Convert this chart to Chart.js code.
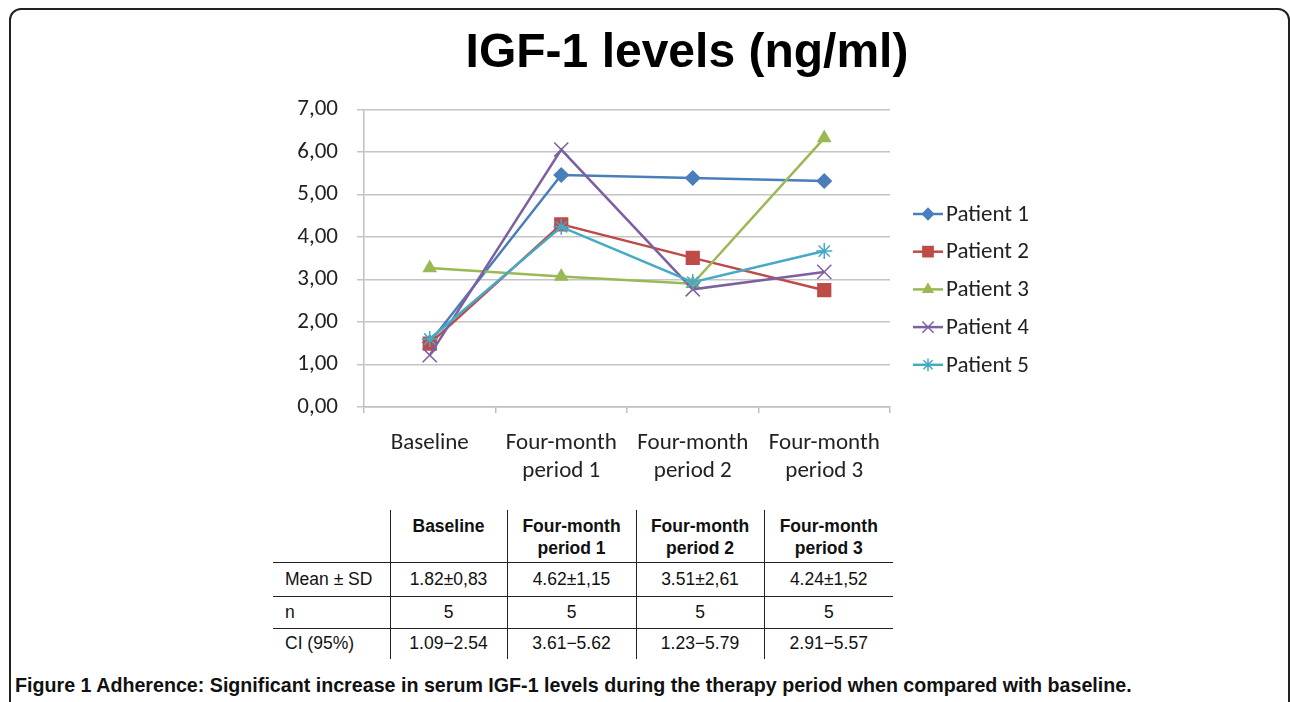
<!DOCTYPE html>
<html>
<head>
<meta charset="utf-8">
<script src="https://cdn.jsdelivr.net/npm/chart.js@4"></script>
<style>
  body { margin: 0; background: #fff; width: 1290px; height: 702px; overflow: hidden; position: relative; }
  #frame { position: absolute; left: 9px; top: 8px; width: 1277px; height: 720px; border: 2px solid #222; border-radius: 12px 12px 0 0; }
  #wrap { position: absolute; left: 84px; top: 0; width: 1206px; height: 500px; }
  table { position: absolute; left: 273px; top: 510px; border-collapse: collapse; font-family: "Liberation Sans", Arial, sans-serif; font-size: 17.5px; color: #111; }
  td, th { padding: 0; text-align: center; }
  th { font-weight: bold; height: 52px; vertical-align: top; padding-top: 5px; box-sizing: border-box; line-height: 22px; }
  tr + tr td { border-top: 1px solid #222; }
  td + td, th + th { border-left: 1.5px solid #222; }
  td:first-child { text-align: left; padding-left: 12px; }
  #caption { position: absolute; left: 15px; top: 673px; font-family: "Liberation Sans", sans-serif; font-weight: bold; font-size: 21px; color: #111; white-space: nowrap; transform: scaleX(0.936); transform-origin: 0 0; }
</style>
</head>
<body>
<div id="frame"></div>
<div id="wrap"><canvas id="myChart" width="1206" height="500"></canvas></div>
<table id="stats"></table>
<div id="caption"><b>Figure 1</b> Adherence: Significant increase in serum IGF-1 levels during the therapy period when compared with baseline.</div>
<script>
// Données
const periods = [['Baseline'], ['Four-month', 'period 1'], ['Four-month', 'period 2'], ['Four-month', 'period 3']];
const patient1 = [1.52, 5.46, 5.39, 5.32];
const patient2 = [1.49, 4.30, 3.51, 2.75];
const patient3 = [3.27, 3.07, 2.90, 6.33];
const patient4 = [1.22, 6.06, 2.77, 3.18];
const patient5 = [1.60, 4.24, 2.94, 3.67];
const yTicks = [0, 1, 2, 3, 4, 5, 6, 7];

// Tableau sous le graphique
const tableHeaders = ['', 'Baseline', 'Four-month<br>period 1', 'Four-month<br>period 2', 'Four-month<br>period 3'];
const meanSd = ['1.82±0,83', '4.62±1,15', '3.51±2,61', '4.24±1,52'];
const nValues = ['5', '5', '5', '5'];
const ci95 = ['1.09\u22122.54', '3.61\u22125.62', '1.23\u22125.79', '2.91\u22125.57'];

const colWidths = [117, 117, 129, 128, 129];
let html = '<tr>' + tableHeaders.map((h, i) => '<th style="width:' + colWidths[i] + 'px">' + h + '</th>').join('') + '</tr>';
html += '<tr style="height:34px"><td>Mean ± SD</td>' + meanSd.map(v => '<td>' + v + '</td>').join('') + '</tr>';
html += '<tr style="height:32px"><td>n</td>' + nValues.map(v => '<td>' + v + '</td>').join('') + '</tr>';
html += '<tr style="height:31px"><td>CI (95%)</td>' + ci95.map(v => '<td>' + v + '</td>').join('') + '</tr>';
document.getElementById('stats').innerHTML = html;

const tickFont = { family: 'Carlito, Lato, sans-serif', size: 23 };

// Légende dessinée à la main : trait + marqueur
const legendPlugin = {
    id: 'excelLegend',
    afterDraw(chart) {
        const ctx = chart.ctx;
        chart.data.datasets.forEach((ds, i) => {
            const y = 214 + i * 37.7;
            const x0 = 829;
            ctx.save();
            ctx.strokeStyle = ds.borderColor;
            ctx.lineWidth = 2.5;
            ctx.beginPath();
            ctx.moveTo(x0, y);
            ctx.lineTo(x0 + 30, y);
            ctx.stroke();
            ctx.fillStyle = ds.pointBackgroundColor;
            ctx.strokeStyle = ds.pointBorderColor;
            ctx.lineWidth = 1.5;
            Chart.helpers.drawPoint(ctx, { pointStyle: ds.pointStyle, radius: ds.pointRadius * 0.8, borderWidth: 1.5 }, x0 + 15, y);
            ctx.fillStyle = '#222';
            ctx.font = '23px Carlito, Lato, sans-serif';
            ctx.textBaseline = 'middle';
            ctx.textAlign = 'left';
            ctx.fillText(ds.label, x0 + 33, y + 1);
            ctx.restore();
        });
    }
};

function serie(label, data, color, style, radius, order) {
    return {
        label: label,
        data: data,
        borderColor: color,
        backgroundColor: color,
        pointBackgroundColor: color,
        pointBorderColor: color,
        pointStyle: style,
        pointRadius: radius,
        pointBorderWidth: 1.5,
        borderWidth: 2.5,
        tension: 0,
        order: order
    };
}

const ctx = document.getElementById('myChart').getContext('2d');
new Chart(ctx, {
    type: 'line',
    data: {
        labels: periods,
        datasets: [
            serie('Patient 1', patient1, '#4a7ebb', 'rectRot', 7, 4),
            serie('Patient 2', patient2, '#be4b48', 'rect', 9, 3),
            serie('Patient 3', patient3, '#98b954', 'triangle', 7, 2),
            serie('Patient 4', patient4, '#7d60a0', 'crossRot', 10, 1),
            serie('Patient 5', patient5, '#46aac5', 'star', 8, 0)
        ]
    },
    options: {
        responsive: false,
        animation: false,
        // marges égales pour que le titre soit centré sur la page
        layout: { padding: { left: 190, right: 190, top: 0, bottom: 13 } },
        plugins: {
            legend: { display: false },
            tooltip: { enabled: false },
            title: {
                display: true,
                text: 'IGF-1 levels (ng/ml)',
                color: '#000',
                font: { family: '"Liberation Sans", Arial, sans-serif', size: 48, weight: 'bold' },
                padding: { top: 25, bottom: 27 }
            }
        },
        scales: {
            x: {
                offset: true,
                afterFit: s => { s.height = 80; },
                grid: { offset: true, drawOnChartArea: false, drawTicks: true, tickLength: 6, color: '#bfbfbf', lineWidth: 1.5 },
                border: { color: '#bfbfbf', width: 1.5 },
                ticks: { color: '#222', font: { ...tickFont, lineHeight: 1.22 }, padding: 16, maxRotation: 0, autoSkip: false }
            },
            y: {
                min: 0,
                max: 7,
                afterFit: s => { s.width = 90; },
                afterBuildTicks: s => { s.ticks = yTicks.map(v => ({ value: v })); },
                grid: { color: '#c4c4c4', lineWidth: 1.5, tickLength: 7 },
                border: { color: '#bfbfbf', width: 1.5 },
                ticks: {
                    color: '#222',
                    font: tickFont,
                    padding: 19,
                    callback: v => v.toFixed(2).replace('.', ',')
                }
            },
            // axe vide à droite : place pour la légende
            yRight: {
                position: 'right',
                min: 0,
                max: 7,
                afterFit: s => { s.width = 210; },
                grid: { drawOnChartArea: false, drawTicks: false },
                border: { display: false },
                ticks: { display: false }
            }
        }
    },
    plugins: [legendPlugin]
});
</script>
</body>
</html>
